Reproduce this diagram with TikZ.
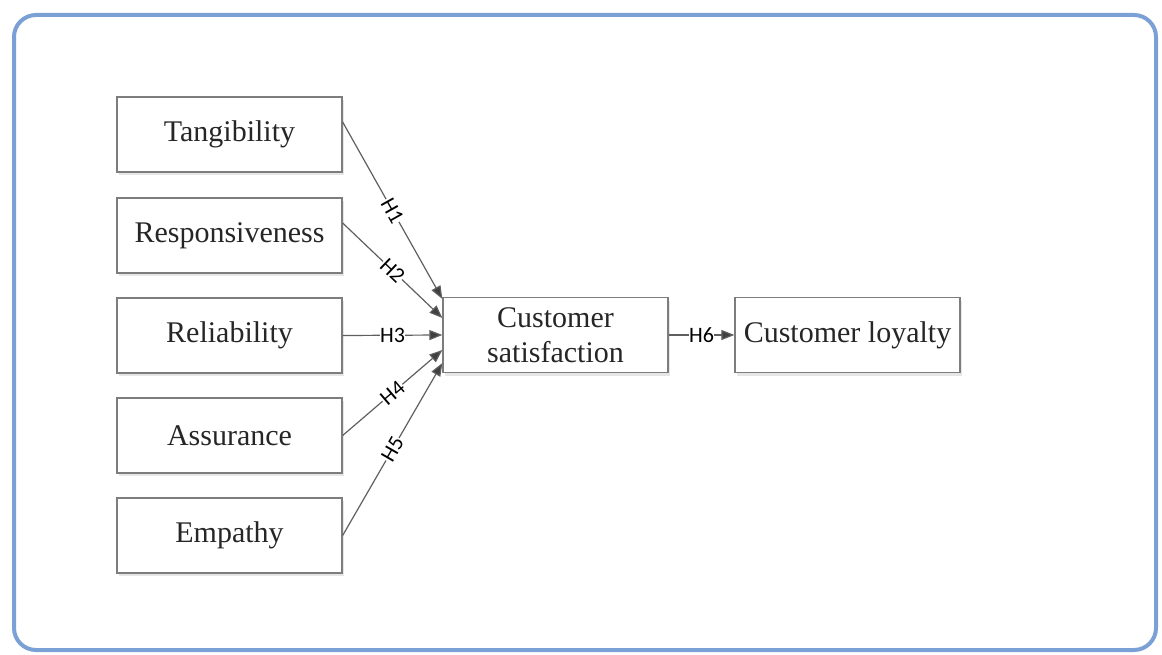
\documentclass[tikz,border=0pt]{standalone}
\usepackage{fontspec}
\setmainfont{Liberation Serif}
\newfontfamily\hfont{Carlito}
\usetikzlibrary{arrows.meta}
\usetikzlibrary{positioning,calc,shadows}
\definecolor{frameblue}{RGB}{122,160,214}
\definecolor{boxgray}{RGB}{125,125,125}
\definecolor{arrgray}{RGB}{95,95,95}

\begin{document}
\begin{tikzpicture}[x=1pt,y=-1pt]
		\useasboundingbox (0,0) rectangle (1162,655);
		\draw[frameblue,line width=4pt,rounded corners=22pt] (14,15) rectangle (1156,650);
		\begin{scope}[every node/.style={draw=boxgray,line width=1.3pt,fill=white,text=black!85,
				minimum width=225pt,minimum height=75pt,inner sep=0pt,align=center,
				font=\fontsize{30}{35}\selectfont,
				drop shadow={shadow xshift=2pt,shadow yshift=-3pt,opacity=0.2}}]
			\node (tan) at (229.5,134.5) {Tangibility};
			\node (res) at (229.5,235.5) {Responsiveness};
			\node (rel) at (229.5,335.5) {Reliability};
			\node (ass) at (229.5,435.5) {Assurance};
			\node (emp) at (229.5,535.5) {Empathy};
			\node (sat) at (555.5,335) {Customer\\satisfaction};
			\node (loy) at (847.5,335) {Customer loyalty};
		\end{scope}
		\begin{scope}[>={Triangle[length=13pt,width=10pt,fill=black!75]},
			every edge/.style={draw=arrgray,line width=1.2pt},
			lbl/.style={fill=white,inner sep=0.5pt,text=black,font=\hfont\fontsize{22}{22}\selectfont}]
			\path ([yshift=12.5pt]tan.east) edge[->] node[lbl,sloped] {H1} ([yshift=36pt]sat.west);
			\path ([yshift=12.5pt]res.east) edge[->] node[lbl,sloped] {H2} ([yshift=17pt]sat.west);
			\path (rel.east) edge[->] node[lbl] {H3} (sat.west);
			\path (ass.east) edge[->] node[lbl,sloped] {H4} ([yshift=-15pt]sat.west);
			\path (emp.east) edge[->] node[lbl,sloped] {H5} ([yshift=-28pt]sat.west);
			\path (sat.east) edge[->] node[lbl] {H6} (loy.west);
		\end{scope}
	\end{tikzpicture}
\end{document}
